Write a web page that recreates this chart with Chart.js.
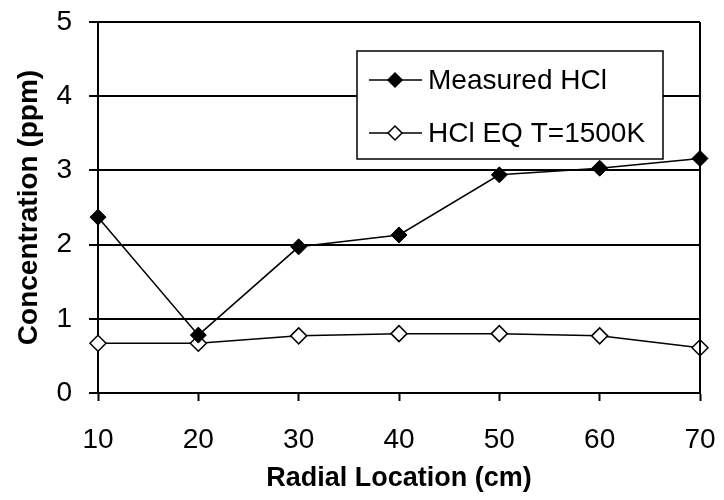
<!DOCTYPE html>
<html lang="en">
<head>
<meta charset="UTF-8">
<title>HCl Concentration vs Radial Location</title>
<script src="https://cdn.jsdelivr.net/npm/chart.js"></script>
<style>
    body { margin: 0; background: #fff; }
    #wrap { width: 724px; height: 500px; }
</style>
</head>
<body>
<div id="wrap"><canvas id="chart" width="724" height="500"></canvas></div>
<script>
const radialLocations = [10, 20, 30, 40, 50, 60, 70];
const measuredHCl = [2.37, 0.78, 1.97, 2.13, 2.94, 3.03, 3.16];
const eqHCl1500K = [0.67, 0.67, 0.77, 0.80, 0.80, 0.77, 0.61];
const yTicks = [0, 1, 2, 3, 4, 5];

const FONT = 'Arial, "Liberation Sans", sans-serif';

function toPoints(ys) {
    return radialLocations.map((x, i) => ({ x: x, y: ys[i] }));
}

// right frame line + boxed legend inside the plot
const framePlugin = {
    id: 'frame',
    afterDatasetsDraw(chart) {
        const { ctx, chartArea: a } = chart;
        ctx.save();
        ctx.strokeStyle = '#000';
        ctx.lineWidth = 2;
        ctx.beginPath();
        ctx.moveTo(a.right, a.top);
        ctx.lineTo(a.right, a.bottom);
        ctx.stroke();

        // legend box
        const bx = a.left + 259, by = a.top + 29, bw = 306, bh = 108;
        ctx.fillStyle = '#fff';
        ctx.fillRect(bx, by, bw, bh);
        ctx.lineWidth = 1.5;
        ctx.strokeRect(bx, by, bw, bh);

        chart.data.datasets.forEach((ds, i) => {
            const y = by + 29 + i * 53;
            ctx.lineWidth = 1.5;
            ctx.strokeStyle = '#000';
            ctx.beginPath();
            ctx.moveTo(bx + 12, y);
            ctx.lineTo(bx + 65, y);
            ctx.stroke();
            const cx = bx + 38, r = 7;
            ctx.beginPath();
            ctx.moveTo(cx, y - r);
            ctx.lineTo(cx + r, y);
            ctx.lineTo(cx, y + r);
            ctx.lineTo(cx - r, y);
            ctx.closePath();
            ctx.fillStyle = ds.pointBackgroundColor;
            ctx.fill();
            ctx.stroke();
            ctx.fillStyle = '#000';
            ctx.font = '28px ' + FONT;
            ctx.textBaseline = 'middle';
            ctx.textAlign = 'left';
            ctx.fillText(ds.label, bx + 71, y + 1);
        });
        ctx.restore();
    }
};

const ctx = document.getElementById('chart').getContext('2d');
new Chart(ctx, {
    type: 'line',
    data: {
        datasets: [
            {
                label: 'Measured HCl',
                data: toPoints(measuredHCl),
                borderColor: '#000',
                borderWidth: 1.5,
                pointStyle: 'rectRot',
                pointRadius: 8,
                pointBackgroundColor: '#000',
                pointBorderColor: '#000',
                pointBorderWidth: 1,
                tension: 0
            },
            {
                label: 'HCl EQ T=1500K',
                data: toPoints(eqHCl1500K),
                borderColor: '#000',
                borderWidth: 1.5,
                pointStyle: 'rectRot',
                pointRadius: 8,
                pointBackgroundColor: '#fff',
                pointBorderColor: '#000',
                pointBorderWidth: 1.5,
                tension: 0
            }
        ]
    },
    options: {
        responsive: false,
        animation: false,
        clip: false,
        layout: { padding: { top: 22, right: 24, bottom: 0, left: 0 } },
        plugins: {
            legend: { display: false },
            tooltip: { enabled: false }
        },
        scales: {
            x: {
                type: 'linear',
                min: 10,
                max: 70,
                afterFit: s => {
                    s.height = 107;
                    s.paddingLeft = 0;
                    s.paddingRight = 0;
                },
                afterBuildTicks: s => { s.ticks = radialLocations.map(v => ({ value: v })); },
                ticks: {
                    color: '#000',
                    font: { family: FONT, size: 28 },
                    padding: 22,
                    maxRotation: 0
                },
                grid: {
                    drawOnChartArea: false,
                    drawTicks: true,
                    tickLength: 8,
                    tickColor: '#000',
                    tickWidth: 2
                },
                border: { display: true, color: '#000', width: 2 },
                title: {
                    display: true,
                    text: 'Radial Location (cm)',
                    color: '#000',
                    font: { family: FONT, size: 27, weight: 'bold' },
                    padding: { top: 2, bottom: 5 }
                }
            },
            y: {
                min: 0,
                max: 5,
                afterFit: s => {
                    s.width = 98;
                    s.paddingTop = 0;
                    s.paddingBottom = 0;
                },
                afterBuildTicks: s => { s.ticks = yTicks.map(v => ({ value: v })); },
                ticks: {
                    color: '#000',
                    font: { family: FONT, size: 28 },
                    padding: 17
                },
                grid: {
                    color: '#000',
                    lineWidth: 2,
                    tickLength: 9,
                    tickColor: '#000'
                },
                border: { display: true, color: '#000', width: 2 },
                title: {
                    display: true,
                    text: 'Concentration (ppm)',
                    color: '#000',
                    font: { family: FONT, size: 28, weight: 'bold' },
                    padding: { top: 12, bottom: 2 }
                }
            }
        }
    },
    plugins: [framePlugin]
});
</script>
</body>
</html>
